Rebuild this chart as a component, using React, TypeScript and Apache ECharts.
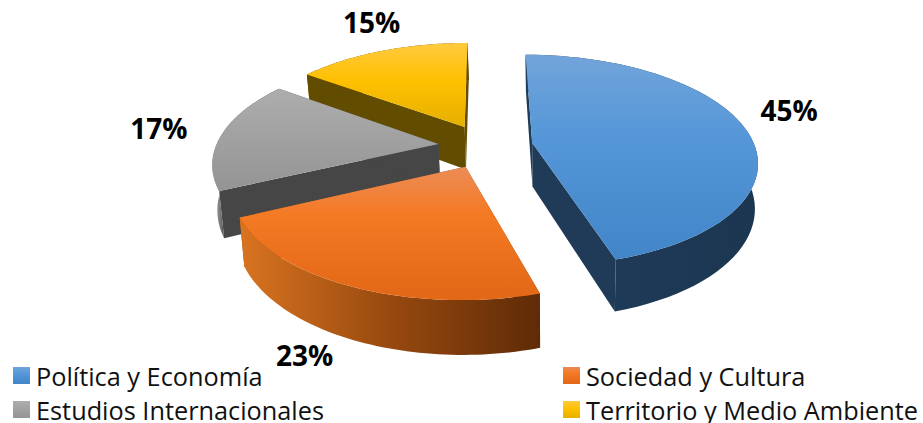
import React, { useEffect, useRef } from "react";
import * as echarts from "echarts";

const categories = ["Política y Economía", "Sociedad y Cultura", "Estudios Internacionales", "Territorio y Medio Ambiente"];
const values = [45.4, 22.6, 17, 15];

const topStops = [
  [[0, "#72a4da"], [0.4, "#5597d8"], [1, "#4285c8"]],
  [[0, "#ec8c58"], [0.35, "#f47a24"], [1, "#e26716"]],
  [[0, "#adadad"], [0.4, "#a3a3a3"], [1, "#949494"]],
  [[0, "#ffca40"], [0.45, "#ffc000"], [1, "#e5b000"]],
];
const wallStops = [
  [[0, "#1f3d5c"], [1, "#1c3650"]],
  [[0, "#d97420"], [0.5, "#97490f"], [1, "#5f2b07"]],
  [[0, "#a0a0a0"], [0.08, "#8c8c8c"], [0.14, "#666666"], [0.2, "#484848"], [1, "#444444"]],
  [[0, "#624c00"], [1, "#5f4a00"]],
];
const sideColors = ["#1f3b58", "#8f4510", "#464646", "#624c00"];
const drawOrder = [3, 2, 0, 1];
const labelShift = [[44, -18], [-46, 69], [-63, -6], [-10, -29]];
const legendSpots = [[13, 363], [563, 363], [13, 397], [563, 397]];

const CX = 485.5, CY = 146, A = 222.5, B = 103.6, P = 0.165, H = 44, EXPLODE = 0.213, CONVERGE = 0.015, DRIFT = 1;
const total = values.reduce((a, b) => a + b, 0);
const starts = values.map((_, i) => values.slice(0, i).reduce((a, b) => a + b, 0));

function project(X: number, Z: number, h: number): number[] {
  const f = 1 / (1 - P * Z);
  return [CX + A * X * f * (1 - CONVERGE * h) + DRIFT * h, CY + B * Z * f + H * h * f];
}

function grad(stops: any[], horizontal: boolean) {
  return {
    type: "linear", x: 0, y: 0, x2: horizontal ? 1 : 0, y2: horizontal ? 0 : 1,
    colorStops: stops.map(([offset, color]) => ({ offset, color })),
  };
}

function sliceChildren(i: number) {
  const a0 = (starts[i] / total) * Math.PI * 2;
  const a1 = ((starts[i] + values[i]) / total) * Math.PI * 2;
  const mid = (a0 + a1) / 2;
  const ex = EXPLODE * Math.sin(mid);
  const ez = -EXPLODE * Math.cos(mid);
  const rim = (a: number, h: number) => project(ex + Math.sin(a), ez - Math.cos(a), h);
  const n = 60;
  const topArc: number[][] = [];
  const botArc: number[][] = [];
  for (let k = 0; k <= n; k++) {
    const a = a0 + ((a1 - a0) * k) / n;
    topArc.push(rim(a, 0));
    botArc.push(rim(a, 1));
  }
  const apexT = project(ex, ez, 0);
  const apexB = project(ex, ez, 1);
  const side = (a: number) => ({
    type: "polygon",
    shape: { points: [apexT, rim(a, 0), rim(a, 1), apexB] },
    style: { fill: sideColors[i] },
  });
  const anchor = project(ex + Math.sin(mid), ez - Math.cos(mid), 0);
  return [
    side(a0),
    side(a1),
    {
      type: "polygon",
      shape: { points: [...topArc, ...botArc.slice().reverse()] },
      style: { fill: grad(wallStops[i], true) },
    },
    {
      type: "polygon",
      shape: { points: [apexT, ...topArc] },
      style: { fill: grad(topStops[i], false) },
    },
    {
      type: "text",
      style: {
        text: Math.round(values[i]) + "%",
        x: anchor[0] + labelShift[i][0],
        y: anchor[1] + labelShift[i][1],
        align: "center",
        verticalAlign: "middle",
        fontFamily: "Open Sans",
        fontWeight: "bold",
        fontSize: 28,
        fill: "#000000",
      },
    },
  ];
}

export default function App() {
  const ref = useRef<HTMLDivElement>(null);
  useEffect(() => {
    const chart = echarts.init(ref.current!, undefined, { renderer: "svg" });
    chart.setOption({
      animation: false,
      legend: categories.map((name, i) => ({
        data: [{ name, itemStyle: { color: grad(topStops[i], false) } }],
        left: legendSpots[i][0],
        top: legendSpots[i][1],
        padding: 0,
        icon: "rect",
        itemWidth: 17,
        itemHeight: 17,
        selectedMode: false,
        textStyle: { fontFamily: "Open Sans", fontSize: 25.3, lineHeight: 17, color: "#111111", padding: [0, 0, 2, 1] },
      })),
      series: drawOrder.map((i) => ({
        type: "custom",
        name: categories[i],
        coordinateSystem: "none",
        silent: true,
        itemStyle: { color: grad(topStops[i], false) },
        data: [[values[i]]],
        renderItem: () => ({ type: "group", children: sliceChildren(i) }),
      })),
    });
    return () => chart.dispose();
  }, []);
  return <div ref={ref} style={{ position: "absolute", left: 0, top: 0, width: 923, height: 423, background: "#fff" }} />;
}
